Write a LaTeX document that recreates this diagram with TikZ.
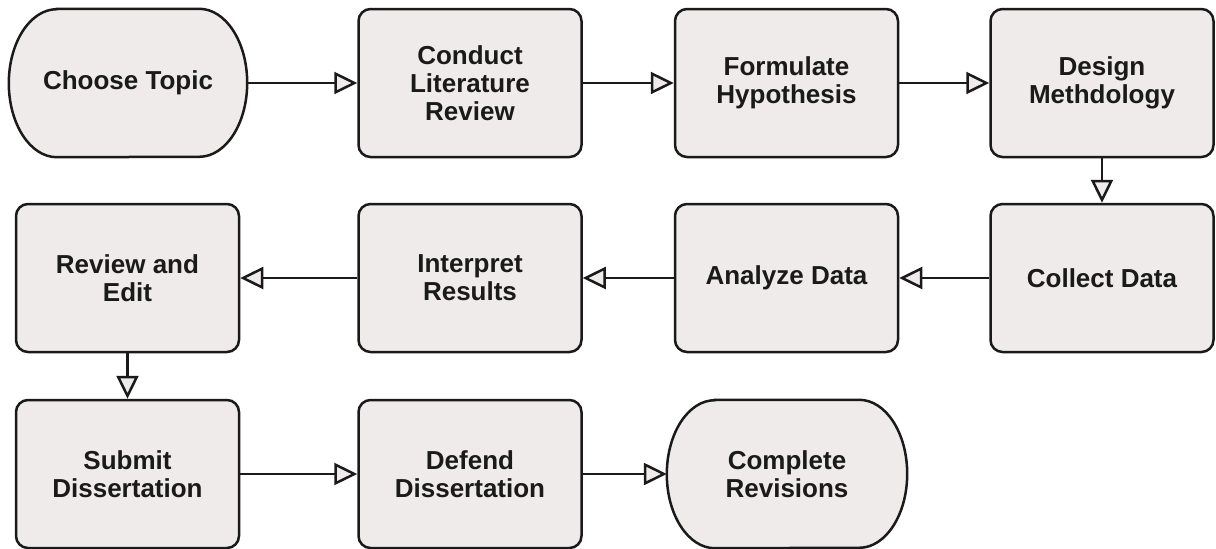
\documentclass[tikz,border=0pt]{standalone}
\usepackage{fontspec}
\setmainfont{Liberation Sans}
\usetikzlibrary{arrows.meta,backgrounds}
\definecolor{boxfill}{HTML}{EEEBEA}
\definecolor{ink}{HTML}{1A1A1A}
\tikzset{
  every node/.style={font=\bfseries\fontsize{26}{28}\selectfont, text=ink, align=center},
  stepbox/.style={draw=ink, line width=2.5pt, fill=boxfill, rounded corners=12pt,
                  minimum width=223pt, minimum height=148pt, inner sep=0pt},
  endcap/.style={minimum width=238pt, minimum height=148pt, inner sep=0pt},
  capline/.style={draw=ink, line width=2.5pt, fill=boxfill},
  flow/.style={draw=ink, line width=2.5pt,
               -{Triangle[length=23pt, width=22pt, fill=boxfill, line width=2.5pt]}}
}
% stadium outline with elliptic ends around a named node
\newcommand\capoutline[1]{%
  \path[capline] ([xshift=48pt]#1.north west) -- ([xshift=-48pt]#1.north east)
    arc[start angle=90, end angle=-90, x radius=48pt, y radius=74pt]
    -- ([xshift=48pt]#1.south west)
    arc[start angle=270, end angle=90, x radius=48pt, y radius=74pt] -- cycle;}
\begin{document}
\begin{tikzpicture}[x=1pt, y=-1pt]
  \useasboundingbox (0,0) rectangle (1216,549);

  % first row
  \node[endcap] (topic) at (128,83) {Choose Topic};
  \node[stepbox] (lit) at (470,83) {Conduct\\Literature\\Review};
  \node[stepbox] (hyp) at (786.5,83) {Formulate\\Hypothesis};
  \node[stepbox] (meth) at (1102,83) {Design\\Methdology};

  % second row
  \node[stepbox] (collect) at (1102,278) {Collect Data};
  \node[stepbox] (analyze) at (786.5,278) {Analyze Data};
  \node[stepbox] (interp) at (470,278) {Interpret\\Results};
  \node[stepbox] (edit) at (127.5,278) {Review and\\Edit};

  % third row
  \node[stepbox] (submit) at (127.5,474) {Submit\\Dissertation};
  \node[stepbox] (defend) at (470,474) {Defend\\Dissertation};
  \node[endcap, minimum width=240pt] (revise) at (787,474) {Complete\\Revisions};

  \begin{scope}[on background layer]
    \capoutline{topic}
    \capoutline{revise}
  \end{scope}

  % connectors
  \draw[flow] (topic) -- (lit);
  \draw[flow] (lit) -- (hyp);
  \draw[flow] (hyp) -- (meth);
  \draw[flow] (meth) -- (collect);
  \draw[flow] (collect) -- (analyze);
  \draw[flow] (analyze) -- (interp);
  \draw[flow] (interp) -- (edit);
  \draw[flow] (edit) -- (submit);
  \draw[flow] (submit) -- (defend);
  \draw[flow] (defend) -- (revise);
\end{tikzpicture}
\end{document}
